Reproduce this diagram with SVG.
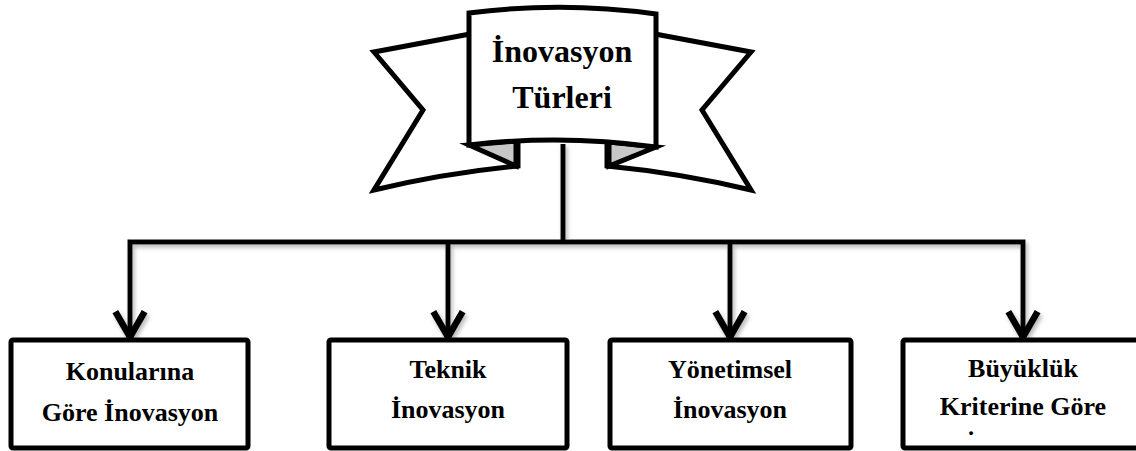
<svg xmlns="http://www.w3.org/2000/svg" width="1136" height="451" viewBox="0 0 1136 451">
<style>
.ol{stroke:#000;stroke-width:5;stroke-linejoin:miter;stroke-miterlimit:6}
.wing{fill:#fff}
.fold{fill:#c8c8c8}
.box{fill:#fff;stroke:#000;stroke-width:5}
.conn{fill:none;stroke:#000;stroke-width:5;stroke-linejoin:miter}
.t{font-family:"Liberation Serif","Times New Roman",serif;font-weight:bold;fill:#000;text-anchor:middle}
.t32{font-size:32px}
.t26{font-size:26px}
</style>
<defs>
<marker id="arr" markerUnits="userSpaceOnUse" markerWidth="40" markerHeight="40" viewBox="-25 -15 30 30" refX="0" refY="0" orient="auto" overflow="visible">
<path d="M-19,-11 L0,0 L-19,11" fill="none" stroke="#000" stroke-width="5" stroke-linejoin="miter"/>
</marker>
<filter id="sh" x="-5%" y="-20%" width="110%" height="140%">
<feGaussianBlur in="SourceAlpha" stdDeviation="2"/>
<feOffset dx="2" dy="3" result="b"/>
<feFlood flood-color="#808080" flood-opacity="0.55"/>
<feComposite in2="b" operator="in"/>
<feMerge><feMergeNode/><feMergeNode in="SourceGraphic"/></feMerge>
</filter>
<clipPath id="clip4"><rect x="903" y="340" width="240" height="95"/></clipPath>
</defs>

<g id="connectors" filter="url(#sh)">
<path class="conn" d="M563,144 V242"/>
<path class="conn" d="M563,242 H130 V337" marker-end="url(#arr)"/>
<path class="conn" d="M563,242 H1023 V337" marker-end="url(#arr)"/>
<path class="conn" d="M448,242 V337" marker-end="url(#arr)"/>
<path class="conn" d="M730,242 V337" marker-end="url(#arr)"/>
</g>

<g id="root">
<path class="ol wing" d="M470,34 L374,52 L423,110 L374,190 Q445,173 518,166 L518,144 L470,144 Z"/>
<path class="ol wing" d="M655,34 L751,52 L702,110 L751,190 Q680,173 607,166 L607,144 L655,144 Z"/>
<path class="ol fold" d="M469,145 L516,141 L516,166 Z"/>
<path class="ol fold" d="M656,147 L609,142 L609,166 Z"/>
<path class="ol wing" d="M469,13 Q562,1 656,14 L656,147 Q562,134 469,145 Z"/>
<text class="t t32" x="562" y="62">İnovasyon</text>
<text class="t t32" x="562" y="108">Türleri</text>
</g>

<g id="node1">
<rect class="box" x="11" y="340" width="237" height="108" rx="2"/>
<text class="t t26" x="130" y="380">Konularına</text>
<text class="t t26" x="130" y="421">Göre İnovasyon</text>
</g>

<g id="node2">
<rect class="box" x="329" y="340" width="238" height="108" rx="2"/>
<text class="t t26" x="448" y="378">Teknik</text>
<text class="t t26" x="448" y="418">İnovasyon</text>
</g>

<g id="node3">
<rect class="box" x="610" y="340" width="241" height="108" rx="2"/>
<text class="t t26" x="730" y="378">Yönetimsel</text>
<text class="t t26" x="730" y="418">İnovasyon</text>
</g>

<g id="node4">
<rect class="box" x="903" y="340" width="240" height="108" rx="2"/>
<text class="t t26" x="1023" y="377">Büyüklük</text>
<text class="t t26" x="1023" y="415">Kriterine Göre</text>
<g clip-path="url(#clip4)">
<text class="t t26" x="1023" y="453">İnovasyon</text>
</g>
</g>
</svg>
